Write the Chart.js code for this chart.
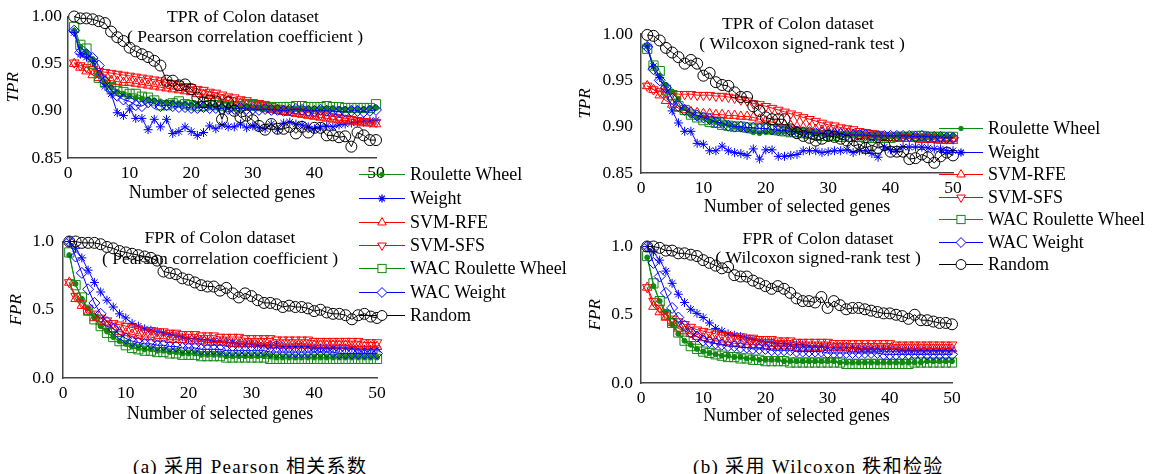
<!DOCTYPE html>
<html>
<head>
<meta charset="utf-8">
<script src="https://cdn.jsdelivr.net/npm/chart.js@4.4.1/dist/chart.umd.min.js"></script>
<style>
  body { margin: 0; width: 1152px; height: 474px; background: #fff; position: relative; overflow: hidden;
         font-family: "Liberation Serif", "Times New Roman", serif; }
  .panel { position: absolute; }
  .leg { position: absolute; height: 22px; display: flex; align-items: center; font-size: 18px; color: #000; white-space: nowrap; }
  .leg svg { display: block; }
  .leg span { margin-left: 5px; }
  .cap { position: absolute; font-family: "Liberation Serif", "Noto Sans CJK SC", serif; font-size: 19px; letter-spacing: 1.3px; color: #000; white-space: nowrap; }
</style>
</head>
<body>
<div class="panel" style="left:0px;top:0px"><canvas id="c1" width="392" height="204"></canvas></div>
<div class="panel" style="left:0px;top:222px"><canvas id="c2" width="393" height="203"></canvas></div>
<div class="panel" style="left:573px;top:0px"><canvas id="c3" width="396" height="218"></canvas></div>
<div class="panel" style="left:573px;top:228px"><canvas id="c4" width="395" height="199"></canvas></div>
<div id="legends"></div>
<div class="cap" style="left:133px;top:451px">(a) 采用 Pearson 相关系数</div>
<div class="cap" style="left:693px;top:451px">(b) 采用 Wilcoxon 秩和检验</div>

<script>
'use strict';

// number of selected genes (x values)
var genes = [1,2,3,4,5,6,7,8,9,10,11,12,13,14,15,16,17,18,19,20,21,22,23,24,25,
  26,27,28,29,30,31,32,33,34,35,36,37,38,39,40,41,42,43,44,45,46,47,48,49,50];

var seriesNames = ['Roulette Wheel', 'Weight', 'SVM-RFE', 'SVM-SFS', 'WAC Roulette Wheel', 'WAC Weight', 'Random'];

// ---- TPR, Pearson correlation coefficient ----
var tprPearsonRW = [0.985,0.968,0.962,0.955,0.940,0.930,0.925,0.920,0.918,0.916,0.914,0.913,0.912,0.911,0.910,0.909,0.909,0.908,0.908,0.907,0.906,0.906,0.905,0.905,0.905,0.904,0.904,0.904,0.904,0.903,0.903,0.903,0.903,0.903,0.903,0.902,0.902,0.902,0.902,0.902,0.902,0.902,0.902,0.902,0.902,0.902,0.902,0.902,0.903,0.903];
var tprPearsonWeight = [0.983,0.960,0.957,0.952,0.938,0.926,0.918,0.898,0.895,0.902,0.892,0.892,0.880,0.891,0.883,0.891,0.876,0.878,0.883,0.878,0.874,0.877,0.884,0.881,0.885,0.883,0.883,0.886,0.882,0.884,0.882,0.881,0.886,0.880,0.887,0.888,0.886,0.885,0.883,0.881,0.883,0.884,0.883,0.885,0.886,0.887,0.888,0.889,0.889,0.890];
var tprPearsonRFE = [0.950,0.946,0.942,0.938,0.935,0.933,0.932,0.931,0.930,0.930,0.929,0.928,0.927,0.926,0.925,0.924,0.923,0.922,0.921,0.920,0.918,0.917,0.916,0.914,0.912,0.911,0.909,0.908,0.906,0.905,0.904,0.902,0.901,0.900,0.899,0.898,0.897,0.896,0.895,0.894,0.893,0.892,0.891,0.890,0.890,0.889,0.888,0.887,0.887,0.886];
var tprPearsonSFS = [0.951,0.948,0.946,0.944,0.942,0.941,0.940,0.939,0.938,0.937,0.936,0.935,0.934,0.933,0.932,0.930,0.929,0.928,0.926,0.925,0.923,0.922,0.920,0.919,0.917,0.915,0.914,0.912,0.911,0.909,0.908,0.906,0.905,0.903,0.902,0.901,0.900,0.899,0.898,0.897,0.896,0.895,0.894,0.893,0.892,0.891,0.890,0.889,0.888,0.888];
var tprPearsonWacRW = [0.989,0.970,0.966,0.950,0.935,0.930,0.925,0.921,0.920,0.918,0.918,0.915,0.914,0.911,0.906,0.906,0.908,0.910,0.907,0.906,0.905,0.905,0.906,0.906,0.905,0.904,0.905,0.905,0.907,0.906,0.905,0.905,0.904,0.904,0.904,0.904,0.905,0.905,0.904,0.904,0.904,0.905,0.904,0.904,0.903,0.903,0.903,0.903,0.903,0.907];
var tprPearsonWacWeight = [0.985,0.962,0.960,0.956,0.948,0.931,0.922,0.916,0.912,0.910,0.906,0.905,0.909,0.908,0.905,0.906,0.905,0.904,0.904,0.903,0.903,0.904,0.903,0.903,0.902,0.902,0.902,0.903,0.902,0.902,0.901,0.902,0.901,0.901,0.900,0.901,0.902,0.901,0.900,0.900,0.901,0.900,0.900,0.899,0.899,0.900,0.900,0.899,0.900,0.901];
var tprPearsonRandom = [1.000,0.998,0.998,0.997,0.995,0.993,0.984,0.978,0.974,0.967,0.963,0.960,0.957,0.953,0.948,0.932,0.932,0.927,0.928,0.923,0.914,0.909,0.911,0.910,0.891,0.909,0.900,0.893,0.895,0.890,0.884,0.880,0.886,0.881,0.881,0.883,0.876,0.883,0.877,0.882,0.882,0.874,0.874,0.872,0.873,0.862,0.877,0.874,0.869,0.869];

// ---- FPR, Pearson correlation coefficient ----
var fprPearsonRW = [0.90,0.69,0.58,0.51,0.44,0.38,0.34,0.30,0.27,0.25,0.23,0.22,0.21,0.21,0.20,0.20,0.19,0.19,0.18,0.18,0.18,0.17,0.17,0.17,0.17,0.16,0.16,0.16,0.16,0.16,0.16,0.16,0.16,0.15,0.15,0.15,0.15,0.15,0.15,0.15,0.15,0.15,0.15,0.15,0.15,0.15,0.15,0.15,0.15,0.15];
var fprPearsonWeight = [1.00,0.95,0.88,0.79,0.70,0.63,0.57,0.52,0.47,0.44,0.40,0.38,0.36,0.35,0.34,0.33,0.32,0.31,0.30,0.29,0.29,0.28,0.28,0.27,0.27,0.26,0.26,0.25,0.25,0.25,0.24,0.24,0.24,0.24,0.23,0.23,0.23,0.23,0.23,0.22,0.22,0.22,0.22,0.22,0.22,0.22,0.21,0.21,0.21,0.21];
var fprPearsonRFE = [0.70,0.58,0.53,0.48,0.44,0.41,0.38,0.36,0.34,0.33,0.32,0.31,0.30,0.30,0.29,0.29,0.28,0.28,0.28,0.27,0.27,0.27,0.26,0.26,0.26,0.26,0.25,0.25,0.25,0.25,0.25,0.25,0.24,0.24,0.24,0.24,0.24,0.24,0.24,0.24,0.24,0.24,0.24,0.24,0.24,0.23,0.23,0.23,0.23,0.23];
var fprPearsonSFS = [0.70,0.60,0.55,0.50,0.47,0.44,0.42,0.40,0.39,0.38,0.37,0.36,0.35,0.35,0.34,0.34,0.33,0.33,0.32,0.32,0.32,0.31,0.31,0.31,0.30,0.30,0.30,0.30,0.29,0.29,0.29,0.29,0.29,0.28,0.28,0.28,0.28,0.28,0.28,0.27,0.27,0.27,0.27,0.27,0.27,0.27,0.27,0.26,0.26,0.26];
var fprPearsonWacRW = [0.92,0.68,0.59,0.50,0.43,0.38,0.33,0.30,0.27,0.24,0.22,0.21,0.20,0.20,0.19,0.19,0.18,0.18,0.17,0.17,0.17,0.16,0.16,0.16,0.16,0.15,0.15,0.15,0.15,0.15,0.15,0.15,0.14,0.14,0.14,0.14,0.14,0.14,0.14,0.14,0.14,0.14,0.14,0.14,0.14,0.14,0.14,0.14,0.14,0.14];
var fprPearsonWacWeight = [1.00,0.89,0.77,0.65,0.55,0.47,0.41,0.36,0.32,0.29,0.27,0.26,0.25,0.25,0.24,0.24,0.23,0.23,0.22,0.22,0.22,0.21,0.21,0.21,0.21,0.20,0.20,0.20,0.20,0.20,0.20,0.20,0.19,0.19,0.19,0.19,0.19,0.19,0.19,0.19,0.19,0.19,0.19,0.18,0.18,0.18,0.18,0.18,0.18,0.18];
var fprPearsonRandom = [1.00,1.00,0.99,0.99,0.99,0.98,0.96,0.95,0.93,0.92,0.91,0.90,0.89,0.88,0.86,0.78,0.77,0.76,0.73,0.72,0.70,0.68,0.67,0.67,0.64,0.66,0.62,0.59,0.62,0.60,0.57,0.55,0.55,0.54,0.52,0.53,0.52,0.52,0.51,0.49,0.50,0.48,0.47,0.47,0.46,0.43,0.46,0.47,0.45,0.44];

// ---- TPR, Wilcoxon signed-rank test ----
var tprWilcoxonRW = [0.987,0.965,0.955,0.945,0.938,0.930,0.920,0.913,0.910,0.910,0.906,0.905,0.903,0.902,0.900,0.898,0.896,0.894,0.893,0.894,0.894,0.895,0.895,0.895,0.895,0.894,0.894,0.893,0.893,0.893,0.893,0.892,0.892,0.892,0.892,0.891,0.891,0.891,0.890,0.890,0.890,0.890,0.890,0.890,0.890,0.890,0.890,0.890,0.890,0.890];
var tprWilcoxonWeight = [0.987,0.965,0.953,0.940,0.917,0.904,0.895,0.895,0.882,0.881,0.874,0.874,0.879,0.874,0.872,0.871,0.869,0.876,0.865,0.875,0.875,0.868,0.868,0.869,0.870,0.874,0.874,0.874,0.872,0.873,0.874,0.874,0.875,0.872,0.874,0.874,0.871,0.867,0.878,0.875,0.875,0.878,0.878,0.878,0.878,0.877,0.876,0.876,0.874,0.874];
var tprWilcoxonRFE = [0.944,0.940,0.934,0.928,0.924,0.920,0.918,0.916,0.915,0.914,0.914,0.913,0.913,0.912,0.912,0.911,0.911,0.910,0.908,0.906,0.905,0.903,0.902,0.901,0.900,0.899,0.898,0.897,0.896,0.895,0.894,0.893,0.892,0.891,0.890,0.890,0.889,0.889,0.888,0.888,0.888,0.887,0.887,0.887,0.886,0.886,0.886,0.885,0.885,0.885];
var tprWilcoxonSFS = [0.944,0.940,0.938,0.937,0.936,0.935,0.935,0.935,0.934,0.934,0.934,0.933,0.933,0.932,0.931,0.929,0.928,0.925,0.924,0.922,0.920,0.918,0.916,0.914,0.912,0.910,0.908,0.906,0.904,0.902,0.901,0.899,0.898,0.897,0.895,0.894,0.893,0.892,0.891,0.890,0.890,0.889,0.889,0.888,0.888,0.888,0.887,0.887,0.887,0.887];
var tprWilcoxonWacRW = [0.984,0.966,0.960,0.940,0.934,0.922,0.918,0.913,0.910,0.907,0.905,0.904,0.902,0.901,0.900,0.900,0.899,0.898,0.898,0.898,0.897,0.896,0.895,0.894,0.894,0.893,0.892,0.891,0.890,0.890,0.890,0.889,0.889,0.889,0.889,0.888,0.888,0.888,0.888,0.888,0.889,0.889,0.889,0.890,0.890,0.889,0.889,0.889,0.889,0.889];
var tprWilcoxonWacWeight = [0.986,0.962,0.950,0.942,0.930,0.922,0.918,0.915,0.912,0.910,0.908,0.905,0.904,0.901,0.900,0.900,0.899,0.899,0.898,0.898,0.897,0.896,0.896,0.895,0.895,0.894,0.894,0.893,0.893,0.892,0.892,0.892,0.891,0.891,0.891,0.891,0.890,0.890,0.890,0.890,0.890,0.890,0.890,0.889,0.890,0.889,0.889,0.889,0.888,0.888];
var tprWilcoxonRandom = [0.999,0.998,0.993,0.985,0.980,0.975,0.968,0.972,0.968,0.955,0.958,0.948,0.945,0.944,0.937,0.932,0.932,0.922,0.917,0.910,0.908,0.908,0.908,0.897,0.893,0.890,0.888,0.885,0.887,0.890,0.889,0.887,0.885,0.879,0.881,0.877,0.880,0.877,0.880,0.873,0.873,0.873,0.865,0.866,0.870,0.867,0.861,0.868,0.872,0.869];

// ---- FPR, Wilcoxon signed-rank test ----
var fprWilcoxonRW = [0.92,0.71,0.60,0.52,0.43,0.36,0.31,0.28,0.25,0.23,0.22,0.21,0.20,0.20,0.19,0.19,0.18,0.18,0.17,0.17,0.17,0.17,0.16,0.16,0.16,0.16,0.16,0.16,0.16,0.16,0.16,0.15,0.15,0.15,0.15,0.15,0.15,0.15,0.15,0.15,0.15,0.15,0.15,0.15,0.15,0.16,0.16,0.16,0.16,0.16];
var fprWilcoxonWeight = [1.00,0.96,0.90,0.82,0.73,0.65,0.59,0.54,0.51,0.48,0.44,0.40,0.38,0.36,0.35,0.34,0.33,0.32,0.31,0.30,0.30,0.29,0.29,0.28,0.28,0.28,0.27,0.27,0.27,0.26,0.26,0.26,0.26,0.26,0.25,0.25,0.25,0.25,0.25,0.25,0.25,0.24,0.24,0.24,0.24,0.24,0.24,0.24,0.24,0.24];
var fprWilcoxonRFE = [0.70,0.56,0.52,0.48,0.44,0.40,0.38,0.36,0.34,0.33,0.32,0.31,0.30,0.30,0.29,0.29,0.28,0.28,0.28,0.27,0.27,0.27,0.27,0.27,0.26,0.26,0.26,0.26,0.26,0.26,0.26,0.26,0.26,0.25,0.25,0.25,0.25,0.25,0.25,0.25,0.25,0.25,0.25,0.25,0.25,0.25,0.25,0.25,0.25,0.25];
var fprWilcoxonSFS = [0.70,0.60,0.55,0.50,0.47,0.45,0.43,0.41,0.39,0.38,0.37,0.36,0.35,0.35,0.34,0.34,0.33,0.33,0.32,0.32,0.32,0.31,0.31,0.31,0.30,0.30,0.30,0.30,0.30,0.30,0.29,0.29,0.29,0.29,0.29,0.29,0.29,0.29,0.29,0.29,0.28,0.28,0.28,0.28,0.28,0.28,0.28,0.28,0.28,0.28];
var fprWilcoxonWacRW = [0.93,0.73,0.60,0.50,0.44,0.37,0.31,0.27,0.25,0.23,0.22,0.21,0.20,0.19,0.19,0.18,0.18,0.17,0.17,0.16,0.16,0.16,0.16,0.15,0.15,0.15,0.15,0.15,0.15,0.15,0.15,0.15,0.14,0.14,0.14,0.14,0.14,0.14,0.14,0.14,0.14,0.14,0.14,0.15,0.15,0.15,0.15,0.15,0.15,0.15];
var fprWilcoxonWacWeight = [1.00,0.88,0.78,0.66,0.55,0.48,0.42,0.37,0.34,0.31,0.30,0.29,0.28,0.27,0.27,0.26,0.26,0.25,0.25,0.25,0.24,0.24,0.24,0.24,0.23,0.23,0.23,0.23,0.23,0.22,0.22,0.22,0.22,0.22,0.22,0.22,0.22,0.22,0.21,0.21,0.21,0.21,0.21,0.21,0.21,0.21,0.21,0.21,0.21,0.21];
var fprWilcoxonRandom = [1.00,1.00,0.99,0.97,0.97,0.95,0.95,0.94,0.93,0.90,0.88,0.86,0.84,0.85,0.79,0.78,0.78,0.75,0.73,0.71,0.69,0.71,0.69,0.66,0.62,0.60,0.60,0.59,0.63,0.55,0.60,0.57,0.54,0.55,0.55,0.54,0.53,0.52,0.51,0.51,0.50,0.49,0.47,0.50,0.46,0.46,0.45,0.44,0.44,0.43];

var tprTicks = [0.85, 0.90, 0.95, 1.00];
var fprTicks = [0.0, 0.5, 1.0];
var xTicks = [0, 10, 20, 30, 40, 50];

// line / marker look of each series (same order as seriesNames)
var GREEN = '#108a10', BLUE = '#0000ff', RED = '#ff0000';
var styles = [
  { color: GREEN, shape: 'circle', r: 2.5, filled: true },
  { color: BLUE, shape: 'star', r: 4.5 },
  { color: RED, shape: 'triangle', r: 5.5 },
  { color: RED, shape: 'triangle', r: 5.5, rot: 180 },
  { color: GREEN, shape: 'rect', r: 6.5 },
  { color: BLUE, shape: 'rectRot', r: 5.5 },
  { color: '#000000', shape: 'circle', r: 5.5 }
];

var FONT = 'Liberation Serif';

// title inside the axes, drawn under the marks
var panelTitle = {
  id: 'panelTitle',
  beforeDatasetsDraw: function(chart, args, opts) {
    var ctx = chart.ctx;
    ctx.save();
    ctx.font = '17.6px "' + FONT + '"';
    ctx.fillStyle = '#000';
    ctx.textAlign = 'center';
    ctx.textBaseline = 'middle';
    opts.lines.forEach(function(line, i) {
      ctx.fillText(line, opts.x[i], opts.y[i]);
    });
    ctx.restore();
  }
};

function makeChart(id, values, cfg) {
  var datasets = values.map(function(vals, i) {
    var s = styles[i];
    return {
      label: seriesNames[i],
      data: vals.map(function(v, k) { return { x: genes[k], y: v }; }),
      borderColor: s.color,
      borderWidth: 1,
      backgroundColor: s.filled ? s.color : 'rgba(0,0,0,0)',
      pointStyle: s.shape,
      pointRadius: s.r,
      pointRotation: s.rot || 0,
      pointBorderWidth: 1,
      pointBorderColor: s.color,
      pointBackgroundColor: s.filled ? s.color : 'rgba(0,0,0,0)',
      tension: 0,
      clip: false,
      order: values.length - i
    };
  });

  return new Chart(document.getElementById(id), {
    type: 'line',
    data: { datasets: datasets },
    plugins: [panelTitle],
    options: {
      responsive: false,
      animation: false,
      events: [],
      layout: { padding: { top: cfg.padTop || 15, right: 16, left: 0, bottom: 0 } },
      plugins: {
        legend: { display: false },
        tooltip: { enabled: false },
        panelTitle: cfg.title
      },
      scales: {
        x: {
          type: 'linear', min: 0, max: 50,
          afterFit: function(s) { s.height = cfg.xH; },
          afterBuildTicks: function(s) { s.ticks = xTicks.map(function(v) { return { value: v }; }); },
          grid: { display: false, drawTicks: false },
          border: { display: true, color: '#444', width: 1.5 },
          ticks: { padding: 5, color: '#000', font: { family: FONT, size: 17.5 } },
          title: { display: true, text: 'Number of selected genes', color: '#000', padding: 0,
                   font: { family: FONT, size: 18 } }
        },
        y: {
          type: 'linear', min: cfg.yMin, max: cfg.yMax,
          afterFit: function(s) { s.width = cfg.yW; },
          afterBuildTicks: function(s) { s.ticks = cfg.ticks.map(function(v) { return { value: v }; }); },
          grid: { display: false, drawTicks: false },
          border: { display: true, color: '#444', width: 1.5 },
          ticks: { padding: cfg.yPad, color: '#000', font: { family: FONT, size: 17.5 },
                   callback: function(v) { return v.toFixed(cfg.dec); } },
          title: { display: true, text: cfg.yLabel, color: '#000', padding: { top: cfg.yTitlePad, bottom: 0 },
                   font: { family: FONT, size: 17, style: 'italic' } }
        }
      }
    }
  });
}

makeChart('c1',
  [tprPearsonRW, tprPearsonWeight, tprPearsonRFE, tprPearsonSFS, tprPearsonWacRW, tprPearsonWacWeight, tprPearsonRandom],
  { yMin: 0.85, yMax: 1.0, ticks: tprTicks, dec: 2, yLabel: 'TPR', yW: 68, xH: 46, yPad: 6, yTitlePad: 3,
    title: { lines: ['TPR of Colon dataset', '( Pearson correlation coefficient )'], x: [243, 245], y: [17, 37] } });

makeChart('c2',
  [fprPearsonRW, fprPearsonWeight, fprPearsonRFE, fprPearsonSFS, fprPearsonWacRW, fprPearsonWacWeight, fprPearsonRandom],
  { yMin: 0, yMax: 1.0, ticks: fprTicks, dec: 1, yLabel: 'FPR', yW: 63, xH: 47, yPad: 9, yTitlePad: 6,
    title: { lines: ['FPR of Colon dataset', '( Pearson correlation coefficient )'], x: [220, 220], y: [16, 37] } });

makeChart('c3',
  [tprWilcoxonRW, tprWilcoxonWeight, tprWilcoxonRFE, tprWilcoxonSFS, tprWilcoxonWacRW, tprWilcoxonWacWeight, tprWilcoxonRandom],
  { yMin: 0.85, yMax: 1.0, ticks: tprTicks, dec: 2, yLabel: 'TPR', yW: 68, xH: 45, yPad: 8, yTitlePad: 2, padTop: 34,
    title: { lines: ['TPR of Colon dataset', '( Wilcoxon signed-rank test )'], x: [225, 229], y: [24, 44] } });

makeChart('c4',
  [fprWilcoxonRW, fprWilcoxonWeight, fprWilcoxonRFE, fprWilcoxonSFS, fprWilcoxonWacRW, fprWilcoxonWacWeight, fprWilcoxonRandom],
  { yMin: 0, yMax: 1.0, ticks: fprTicks, dec: 1, yLabel: 'FPR', yW: 68, xH: 44, yPad: 8, yTitlePad: 12,
    title: { lines: ['FPR of Colon dataset', '( Wilcoxon signed-rank test )'], x: [245, 245], y: [11, 30] } });

// legends: small svg sample of line + marker, then the name
function markerSvg(s, cx, cy) {
  var c = s.color, r = s.r * 0.9;
  if (s.shape === 'circle') {
    return '<circle cx="' + cx + '" cy="' + cy + '" r="' + r + '" fill="' + (s.filled ? c : '#fff') + '" stroke="' + c + '"/>';
  }
  if (s.shape === 'star') {
    var d = r * 0.7;
    return '<path d="M' + (cx - r) + ' ' + cy + 'H' + (cx + r) + 'M' + cx + ' ' + (cy - r) + 'V' + (cy + r) +
      'M' + (cx - d) + ' ' + (cy - d) + 'L' + (cx + d) + ' ' + (cy + d) + 'M' + (cx - d) + ' ' + (cy + d) + 'L' + (cx + d) + ' ' + (cy - d) +
      '" stroke="' + c + '" stroke-width="1.3"/>';
  }
  if (s.shape === 'triangle') {
    var sg = s.rot ? -1 : 1, h = r * 0.5, w = r * 0.87;
    return '<polygon points="' + cx + ',' + (cy - sg * r) + ' ' + (cx + w) + ',' + (cy + sg * h) + ' ' + (cx - w) + ',' + (cy + sg * h) +
      '" fill="#fff" stroke="' + c + '"/>';
  }
  if (s.shape === 'rect') {
    var a = r * 0.7;
    return '<rect x="' + (cx - a) + '" y="' + (cy - a) + '" width="' + 2 * a + '" height="' + 2 * a + '" fill="#fff" stroke="' + c + '"/>';
  }
  return '<polygon points="' + cx + ',' + (cy - r) + ' ' + (cx + r) + ',' + cy + ' ' + cx + ',' + (cy + r) + ' ' + (cx - r) + ',' + cy +
    '" fill="#fff" stroke="' + c + '"/>';
}

function drawLegend(left, ys, lineW) {
  var html = '';
  seriesNames.forEach(function(name, i) {
    var s = styles[i];
    var mid = lineW / 2;
    html += '<div class="leg" style="left:' + left + 'px;top:' + (ys[i] - 11) + 'px">' +
      '<svg width="' + lineW + '" height="16"><line x1="0" y1="8.5" x2="' + lineW + '" y2="8.5" stroke="' + s.color + '" stroke-width="1.2"/>' +
      markerSvg(s, mid, 8.5) + '</svg><span>' + name + '</span></div>';
  });
  document.getElementById('legends').innerHTML += html;
}

drawLegend(359, [174, 198, 222, 245, 268, 292, 315], 46);
drawLegend(939, [128, 152, 174, 197, 219, 242, 264], 44);
</script>
</body>
</html>
